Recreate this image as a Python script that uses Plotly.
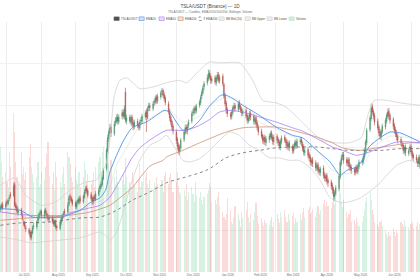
import pandas as pd
import plotly.graph_objects as go

# ---------------- data ----------------
dates = pd.bdate_range("2025-06-25", "2026-07-09")

opens = [
    325, 327, 331,
    328, 334, 332, 338, 343,
    342, 355, 331, 328, 321,
    325, 318, 308, 309, 303,
    301, 298, 291, 297, 304,
    304, 311, 315, 321, 323,
    317, 324, 320, 318, 313,
    316, 312, 307, 311, 305,
    302, 309, 314, 318, 323,
    322, 331, 341, 339, 336,
    333, 328, 336, 333, 339,
    334, 340, 347, 351, 348,
    343, 339, 334, 340, 337,
    343, 349, 352, 355, 362,
    374, 395, 410, 417, 424,
    416, 429, 431, 436, 430,
    437, 442, 436, 466, 431,
    436, 430, 436, 429, 424,
    431, 427, 423, 431, 431,
    436, 442, 435, 447, 450,
    446, 453, 454, 460, 455,
    460, 466, 468, 463, 459,
    452, 443, 436, 431, 425,
    418, 409, 402, 394, 399,
    409, 417, 424, 419, 426,
    431, 441, 441, 447, 443,
    450, 453, 461, 465, 472,
    477, 482, 489, 485, 479,
    483, 477, 482, 487, 479,
    485, 475, 462, 453, 445,
    439, 436, 441, 446, 450,
    445, 453, 449, 445, 440,
    444, 438, 431, 434, 441,
    437, 430, 435, 429, 424,
    419, 414, 407, 412, 405,
    409, 412, 417, 412, 406,
    413, 409, 406, 400, 406,
    412, 409, 406, 400, 405,
    400, 395, 400, 406, 401,
    406, 409, 404, 400, 393,
    397, 391, 388, 381, 385,
    381, 374, 379, 373, 369,
    375, 367, 362, 366, 360,
    358, 354, 349, 340, 344,
    350, 364, 380, 388, 391,
    385, 380, 385, 378, 376,
    373, 369, 376, 370, 376,
    381, 383, 388, 395, 405,
    421, 434, 449, 443, 438,
    431, 424, 418, 412, 418,
    424, 431, 437, 443, 438,
    433, 426, 421, 417, 413,
    409, 404, 402, 395, 400,
    392, 397, 401, 395, 390,
    388, 383, 379, 388,
]

highs = [
    331, 333, 334,
    335, 337, 338, 342, 346,
    357, 358, 334, 330, 327,
    327, 321, 313, 311, 306,
    303, 300, 300, 306, 309,
    312, 319, 322, 325, 325,
    326, 327, 323, 320, 318,
    318, 314, 313, 313, 307,
    312, 318, 320, 323, 326,
    334, 342, 344, 341, 338,
    335, 336, 338, 341, 342,
    343, 349, 353, 354, 350,
    346, 341, 342, 343, 347,
    351, 355, 359, 366, 375,
    399, 415, 421, 428, 427,
    431, 436, 439, 440, 439,
    445, 445, 450, 471, 439,
    439, 438, 439, 433, 433,
    434, 429, 433, 436, 440,
    444, 446, 449, 453, 453,
    455, 458, 462, 463, 464,
    468, 471, 470, 466, 462,
    455, 446, 439, 433, 428,
    421, 412, 405, 403, 411,
    421, 427, 427, 428, 433,
    443, 446, 449, 450, 452,
    457, 463, 469, 474, 479,
    487, 493, 492, 488, 485,
    486, 486, 490, 490, 487,
    488, 477, 465, 456, 448,
    442, 445, 450, 453, 453,
    455, 456, 451, 448, 446,
    447, 441, 438, 443, 444,
    440, 437, 438, 432, 427,
    422, 416, 414, 415, 413,
    416, 419, 420, 415, 415,
    416, 412, 409, 410, 414,
    415, 411, 409, 407, 408,
    403, 404, 408, 409, 410,
    412, 412, 407, 403, 399,
    400, 394, 391, 387, 388,
    384, 381, 382, 376, 377,
    378, 370, 368, 369, 363,
    361, 357, 352, 348, 354,
    368, 384, 391, 394, 394,
    388, 387, 388, 381, 379,
    376, 378, 379, 380, 385,
    387, 392, 399, 409, 423,
    438, 452, 452, 446, 441,
    434, 427, 421, 422, 428,
    435, 441, 446, 447, 441,
    436, 429, 424, 420, 416,
    412, 407, 405, 402, 403,
    399, 403, 404, 398, 393,
    391, 386, 390, 391,
]

lows = [
    322, 325, 324,
    326, 330, 330, 335, 338,
    340, 328, 324, 320, 318,
    317, 312, 305, 302, 298,
    294, 289, 288, 295, 301,
    301, 308, 313, 318, 315,
    314, 318, 314, 311, 310,
    308, 305, 304, 301, 299,
    300, 306, 311, 315, 318,
    320, 329, 336, 333, 329,
    326, 325, 331, 331, 332,
    332, 338, 344, 344, 339,
    335, 331, 331, 335, 335,
    341, 346, 350, 353, 360,
    371, 392, 406, 414, 412,
    413, 425, 428, 427, 427,
    433, 434, 433, 429, 427,
    428, 426, 424, 420, 421,
    423, 420, 420, 427, 428,
    433, 418, 433, 443, 443,
    443, 449, 451, 452, 452,
    457, 462, 459, 455, 450,
    439, 431, 426, 420, 415,
    404, 397, 391, 390, 396,
    406, 414, 416, 415, 423,
    428, 437, 438, 440, 440,
    447, 450, 457, 462, 468,
    474, 479, 481, 476, 476,
    475, 473, 479, 477, 476,
    473, 458, 449, 440, 436,
    433, 433, 438, 443, 442,
    442, 445, 441, 437, 437,
    434, 428, 428, 431, 432,
    427, 427, 425, 420, 414,
    410, 404, 403, 402, 401,
    405, 409, 408, 403, 402,
    404, 401, 397, 396, 403,
    405, 401, 397, 396, 395,
    392, 392, 397, 398, 398,
    403, 401, 395, 390, 389,
    386, 383, 378, 377, 376,
    371, 371, 368, 366, 365,
    362, 359, 358, 355, 352,
    349, 344, 336, 335, 341,
    347, 361, 377, 384, 380,
    377, 376, 373, 371, 368,
    366, 366, 368, 367, 373,
    378, 380, 385, 392, 402,
    418, 431, 439, 433, 426,
    420, 413, 409, 408, 415,
    421, 428, 434, 433, 428,
    421, 416, 412, 408, 404,
    401, 397, 392, 391, 389,
    389, 394, 391, 385, 383,
    381, 376, 376, 374,
]

closes = [
    328, 330, 327,
    332, 333, 336, 339, 341,
    353, 330, 327, 323, 324,
    320, 315, 310, 305, 302,
    297, 292, 298, 303, 305,
    310, 316, 320, 322, 318,
    323, 321, 317, 314, 315,
    311, 308, 310, 304, 303,
    310, 315, 317, 320, 321,
    330, 339, 340, 335, 332,
    329, 333, 334, 338, 335,
    341, 346, 350, 347, 342,
    338, 335, 339, 338, 344,
    348, 353, 356, 363, 372,
    396, 411, 418, 423, 417,
    428, 432, 435, 431, 436,
    441, 437, 446, 432, 435,
    431, 435, 428, 425, 430,
    426, 424, 430, 432, 437,
    441, 436, 446, 449, 447,
    452, 455, 459, 456, 461,
    465, 467, 462, 458, 453,
    442, 435, 430, 424, 419,
    408, 401, 395, 400, 408,
    418, 423, 420, 425, 430,
    440, 442, 446, 444, 449,
    454, 460, 466, 471, 476,
    483, 488, 484, 480, 482,
    478, 483, 486, 480, 484,
    476, 461, 452, 444, 440,
    437, 442, 447, 449, 446,
    452, 448, 444, 441, 443,
    437, 432, 435, 440, 436,
    431, 434, 428, 423, 418,
    413, 408, 411, 406, 410,
    413, 416, 411, 407, 412,
    408, 405, 401, 407, 411,
    408, 405, 401, 404, 399,
    396, 401, 405, 402, 407,
    408, 405, 399, 394, 396,
    390, 387, 382, 384, 380,
    375, 378, 372, 370, 374,
    366, 363, 365, 359, 357,
    353, 348, 341, 345, 351,
    365, 381, 387, 390, 384,
    381, 384, 377, 375, 372,
    370, 375, 371, 377, 382,
    384, 389, 396, 406, 420,
    435, 447, 442, 437, 430,
    423, 417, 413, 419, 425,
    432, 438, 442, 437, 432,
    425, 420, 416, 412, 408,
    405, 401, 396, 399, 393,
    396, 400, 394, 389, 387,
    384, 380, 387, 378,
]

volumes = [
    125, 110, 95,
    100, 90, 85, 120, 105,
    159, 140, 110, 95, 88,
    120, 98, 105, 92, 100,
    115, 128, 105, 98, 90,
    95, 110, 85, 88, 100,
    92, 105, 118, 130, 96,
    88, 100, 82, 110, 95,
    90, 85, 98, 105, 88,
    120, 115, 108, 95, 90,
    105, 92, 88, 100, 85,
    95, 110, 102, 90, 98,
    88, 92, 100, 85, 105,
    110, 115, 100, 120, 125,
    132, 118, 108, 100, 112,
    95, 88, 102, 90, 85,
    92, 98, 88, 114, 95,
    90, 85, 100, 94, 86,
    80, 92, 108, 85, 90,
    95, 100, 88, 84, 92,
    82, 90, 86, 95, 88,
    85, 92, 80, 96, 100,
    88, 95, 99, 92, 80,
    90, 100, 86, 80, 78,
    82, 76, 88, 72, 80,
    85, 78, 70, 90, 76,
    74, 80, 72, 68, 75,
    78, 82, 89, 85, 70,
    72, 68, 75, 80, 66,
    60, 55, 52, 58, 74,
    62, 50, 48, 55, 66,
    58, 52, 45, 60, 54,
    62, 70, 55, 50, 58,
    52, 60, 69, 56, 48,
    54, 50, 46, 52, 49,
    47, 52, 55, 45, 50,
    58, 53, 49, 60, 55,
    62, 55, 50, 58, 52,
    56, 60, 48, 54, 50,
    58, 52, 60, 64, 55,
    62, 65, 58, 60, 63,
    55, 60, 66, 58, 62,
    68, 72, 65, 70, 66,
    64, 70, 72, 68, 75,
    82, 79, 70, 65, 72,
    60, 55, 58, 62, 50,
    52, 48, 55, 50, 46,
    50, 56, 62, 70, 75,
    80, 72, 62, 58, 50,
    48, 45, 50, 52, 46,
    42, 38, 35, 40, 36,
    44, 40, 36, 42, 39,
    50, 48, 45, 52, 46,
    45, 42, 48, 50, 44,
    46, 50, 42, 48,
]

ema20_dates = ["2025-06-25", "2025-07-13", "2025-07-24", "2025-08-20", "2025-08-24", "2025-09-05",
               "2025-09-14", "2025-09-23", "2025-09-28", "2025-10-02", "2025-10-08", "2025-10-14",
               "2025-10-22", "2025-11-04", "2025-11-13", "2025-11-20", "2025-11-25", "2025-12-01",
               "2025-12-07", "2025-12-15", "2025-12-22", "2025-12-31", "2026-01-09", "2026-01-13",
               "2026-01-20", "2026-01-30", "2026-02-14", "2026-03-01", "2026-03-16", "2026-03-25",
               "2026-04-07", "2026-04-19", "2026-04-28", "2026-05-04", "2026-05-13", "2026-05-18",
               "2026-05-24", "2026-06-03", "2026-06-12", "2026-06-21", "2026-06-30", "2026-07-09"]
ema20 = [326, 324, 316, 316, 318, 324, 333, 339, 348, 370, 390, 407, 423, 430, 438, 444, 442, 430,
         420, 423, 432, 449, 461, 463, 459, 450, 438, 424, 414, 411, 396, 382, 366, 372, 376, 384,
         400, 411, 418, 417, 412, 406]

ema50_dates = ["2025-06-25", "2025-07-22", "2025-08-20", "2025-08-27", "2025-09-14", "2025-09-23",
               "2025-10-02", "2025-10-05", "2025-10-11", "2025-10-17", "2025-10-22", "2025-10-29",
               "2025-11-10", "2025-11-22", "2025-12-01", "2025-12-10", "2025-12-22", "2025-12-31",
               "2026-01-09", "2026-01-18", "2026-01-30", "2026-02-14", "2026-03-01", "2026-03-16",
               "2026-03-25", "2026-04-10", "2026-04-21", "2026-04-30", "2026-05-13", "2026-05-22",
               "2026-06-05", "2026-06-18", "2026-06-30", "2026-07-09"]
ema50 = [322, 318, 318, 321, 327, 330, 340, 346, 360, 375, 387, 399, 411, 420, 420, 420, 426, 433,
         442, 444, 442, 436, 430, 423, 419, 408, 400, 396, 390, 393, 400, 406, 406, 405]

ema100_dates = ["2025-06-25", "2025-07-22", "2025-08-20", "2025-09-14", "2025-10-02", "2025-10-11",
                "2025-10-22", "2025-11-07", "2025-11-19", "2025-11-22", "2025-12-07", "2025-12-22",
                "2025-12-31", "2026-01-15", "2026-01-30", "2026-02-14", "2026-03-01", "2026-03-16",
                "2026-03-27", "2026-04-07", "2026-04-21", "2026-04-30", "2026-05-15", "2026-05-31",
                "2026-06-15", "2026-06-30", "2026-07-09"]
ema100 = [312, 315, 317, 322, 330, 339, 351, 377, 384, 388, 396, 405, 410, 418, 423, 424, 424, 420,
          416, 412, 405, 399, 396, 399, 402, 405, 405]

ema200_dates = ["2025-06-25", "2025-07-13", "2025-08-08", "2025-09-07", "2025-09-23", "2025-10-08",
                "2025-10-22", "2025-11-07", "2025-11-22", "2025-12-07", "2025-12-22", "2025-12-31",
                "2026-01-15", "2026-01-30", "2026-02-14", "2026-03-01", "2026-03-20", "2026-04-07",
                "2026-04-21", "2026-05-06", "2026-05-22", "2026-06-05", "2026-06-21", "2026-07-09"]
ema200 = [306, 309, 310, 315, 316, 324, 336, 346, 357, 363, 369, 374, 387, 393, 396, 399, 400, 400,
          398, 396, 396, 396, 398, 398]

bb_up_dates = ["2025-06-25", "2025-07-08", "2025-07-18", "2025-08-01", "2025-08-14", "2025-08-27",
               "2025-09-10", "2025-09-19", "2025-09-28", "2025-10-02", "2025-10-06", "2025-10-11",
               "2025-10-17", "2025-10-22", "2025-10-29", "2025-11-10", "2025-11-22", "2025-12-04",
               "2025-12-10", "2025-12-22", "2025-12-31", "2026-01-09", "2026-01-27", "2026-02-02",
               "2026-02-08", "2026-02-17", "2026-03-01", "2026-03-10", "2026-03-20", "2026-04-01",
               "2026-04-12", "2026-04-25", "2026-05-06", "2026-05-17", "2026-05-23", "2026-05-29",
               "2026-06-09", "2026-06-21", "2026-07-09"]
bb_upper = [354, 363, 342, 330, 334, 348, 358, 360, 378, 408, 462, 480, 483, 478, 470, 472, 477, 480,
            477, 492, 502, 501, 501, 492, 480, 456, 453, 448, 436, 420, 408, 405, 405, 411, 438, 456,
            456, 453, 450]

bb_mid_dates = ["2025-06-25", "2025-07-22", "2025-08-20", "2025-09-14", "2025-09-28", "2025-10-08",
                "2025-10-17", "2025-10-29", "2025-11-16", "2025-11-25", "2025-12-07", "2025-12-22",
                "2025-12-31", "2026-01-13", "2026-01-27", "2026-02-14", "2026-03-04", "2026-03-20",
                "2026-04-07", "2026-04-21", "2026-05-06", "2026-05-18", "2026-05-29", "2026-06-12",
                "2026-06-30", "2026-07-09"]
bb_mid = [323, 315, 316, 330, 339, 378, 399, 426, 441, 444, 430, 437, 450, 459, 456, 430, 420, 410,
          396, 372, 368, 377, 401, 413, 411, 408]

bb_lo_dates = ["2025-06-25", "2025-07-13", "2025-07-22", "2025-08-08", "2025-09-05", "2025-09-23",
               "2025-09-28", "2025-10-02", "2025-10-08", "2025-10-14", "2025-10-22", "2025-10-29",
               "2025-11-07", "2025-11-16", "2025-11-22", "2025-12-01", "2025-12-07", "2025-12-13",
               "2025-12-22", "2025-12-31", "2026-01-09", "2026-01-18", "2026-01-27", "2026-02-05",
               "2026-02-14", "2026-02-23", "2026-03-04", "2026-03-13", "2026-03-22", "2026-04-01",
               "2026-04-10", "2026-04-19", "2026-04-30", "2026-05-15", "2026-05-24", "2026-06-03",
               "2026-06-09", "2026-06-18", "2026-06-30", "2026-07-09"]
bb_lower = [292, 288, 285, 287, 291, 298, 294, 288, 298, 322, 360, 384, 402, 408, 414, 396, 384, 382,
            386, 396, 408, 418, 414, 402, 396, 387, 387, 384, 384, 375, 360, 339, 333, 338, 346, 357,
            366, 378, 384, 378]

legend_names = ["TSLA/USDT", "EMA20", "EMA50", "EMA100", "EMA200", "BB Mid (20)", "BB Upper",
                "BB Lower", "Volume"]

# ---------------- styles ----------------
FONT = "Liberation Sans, Arial, sans-serif"
INC, DEC = "#468f6a", "#b24e46"
INC_VOL, DEC_VOL = "rgba(72,190,125,0.22)", "rgba(235,90,80,0.22)"
C_EMA20, C_EMA50, C_EMA100, C_EMA200 = "#4a94e8", "#ab7cf0", "#c99170", "#6a6a6a"
C_BB = "#d2d2d2"

n = min(len(dates), len(opens), len(highs), len(lows), len(closes), len(volumes))
dates = dates[:n]
opens, highs, lows, closes, volumes = opens[:n], highs[:n], lows[:n], closes[:n], volumes[:n]
vol_colors = [INC_VOL if c >= o else DEC_VOL for o, c in zip(opens, closes)]

fig = go.Figure()
fig.add_trace(go.Bar(x=dates, y=volumes, marker=dict(color=vol_colors, line=dict(width=0)),
                     yaxis="y", name="Volume", hoverinfo="skip"))
fig.add_trace(go.Candlestick(x=dates, open=opens, high=highs, low=lows, close=closes, yaxis="y2",
                             name="TSLA/USDT",
                             increasing=dict(line=dict(color=INC, width=0.6), fillcolor=INC),
                             decreasing=dict(line=dict(color=DEC, width=0.6), fillcolor=DEC)))
fig.add_trace(go.Scatter(x=bb_up_dates, y=bb_upper, yaxis="y2", mode="lines", name="BB Upper",
                         line=dict(color=C_BB, width=0.8, shape="spline", smoothing=0.6)))
fig.add_trace(go.Scatter(x=bb_lo_dates, y=bb_lower, yaxis="y2", mode="lines", name="BB Lower",
                         line=dict(color=C_BB, width=0.8, shape="spline", smoothing=0.6)))
fig.add_trace(go.Scatter(x=bb_mid_dates, y=bb_mid, yaxis="y2", mode="lines", name="BB Mid (20)",
                         line=dict(color="rgba(170,170,170,0.4)", width=0.6, shape="spline", smoothing=0.6)))
fig.add_trace(go.Scatter(x=ema200_dates, y=ema200, yaxis="y2", mode="lines", name="EMA200",
                         line=dict(color=C_EMA200, width=0.8, dash="dot", shape="spline")))
fig.add_trace(go.Scatter(x=ema100_dates, y=ema100, yaxis="y2", mode="lines", name="EMA100",
                         line=dict(color=C_EMA100, width=0.8, shape="spline", smoothing=0.6)))
fig.add_trace(go.Scatter(x=ema50_dates, y=ema50, yaxis="y2", mode="lines", name="EMA50",
                         line=dict(color=C_EMA50, width=0.8, shape="spline", smoothing=0.6)))
fig.add_trace(go.Scatter(x=ema20_dates, y=ema20, yaxis="y2", mode="lines", name="EMA20",
                         line=dict(color=C_EMA20, width=0.9, shape="spline", smoothing=0.6)))

# ---------------- custom legend (icons + text) ----------------
W, H, TOP, BOT = 420, 280, 22, 272
def py(ypx):
    return (BOT - ypx) / (BOT - TOP)

icon_left = [114, 139, 159, 178, 199, 219, 245, 267, 289]
icon_style = [
    dict(fill="#4f4f4f", line="#6a6a6a", dash="solid"),
    dict(fill="rgba(74,148,232,0.25)", line=C_EMA20, dash="solid"),
    dict(fill="rgba(171,124,240,0.25)", line=C_EMA50, dash="solid"),
    dict(fill="rgba(201,145,112,0.25)", line=C_EMA100, dash="solid"),
    dict(fill="rgba(0,0,0,0)", line="#666666", dash="dot"),
    dict(fill="#eeeeee", line="#cccccc", dash="solid"),
    dict(fill="#eeeeee", line="#cccccc", dash="solid"),
    dict(fill="#eeeeee", line="#cccccc", dash="solid"),
    dict(fill="#cdeedb", line="#b9e6cd", dash="solid"),
]
shapes, annotations = [], []
LY = 18.7
for name, x0, st in zip(legend_names, icon_left, icon_style):
    shapes.append(dict(type="rect", xref="paper", yref="paper",
                       x0=x0 / W, x1=(x0 + 5.2) / W, y0=py(LY + 1.8), y1=py(LY - 1.8),
                       fillcolor=st["fill"], line=dict(color=st["line"], width=0.6, dash=st["dash"]),
                       layer="above"))
    annotations.append(dict(xref="paper", yref="paper", x=(x0 + 6.4) / W, y=py(LY),
                            xanchor="left", yanchor="middle", text=name, showarrow=False,
                            borderpad=0, font=dict(size=3, color="#555555", family=FONT)))

annotations.append(dict(xref="paper", yref="paper", x=0.5, y=py(12.3), xanchor="center",
                        yanchor="middle", showarrow=False, borderpad=0,
                        text="TSLA/USDT — Candles, EMA20/50/100/200, Bollinger, Volume",
                        font=dict(size=3, color="#6E7079", family=FONT)))

fig.update_layout(
    width=W, height=H,
    margin=dict(l=0, r=0, t=TOP, b=H - BOT, pad=0),
    paper_bgcolor="white", plot_bgcolor="white",
    showlegend=False,
    bargap=0,
    font=dict(family=FONT, size=3, color="#6E7079"),
    title=dict(text="TSLA/USDT (Binance) — 1D", x=0.5, xanchor="center", xref="container",
               y=1 - 6 / H, yanchor="middle", yref="container",
               font=dict(size=4.6, color="#464646", family=FONT)),
    xaxis=dict(type="date", range=["2025-06-24 16:20", "2026-07-09 03:00"],
               tick0="2025-07-01", dtick="M1", ticklabelmode="period", tickformat="%b %Y",
               showgrid=True, gridcolor="#ececec", gridwidth=1, ticks="", showline=False,
               zeroline=False, tickfont=dict(size=3, color="#6E7079"),
               rangeslider=dict(visible=False)),
    yaxis=dict(range=[0, 250], showgrid=False, showticklabels=False, zeroline=False,
               showline=False, ticks=""),
    yaxis2=dict(range=[250, 550], overlaying="y", side="left", showticklabels=False,
                showgrid=True, gridcolor="#f1f1f1", gridwidth=1,
                tickvals=[300, 350, 400, 450, 500], zeroline=False, showline=False, ticks=""),
    shapes=shapes,
    annotations=annotations,
)

fig.write_html("out.html")
